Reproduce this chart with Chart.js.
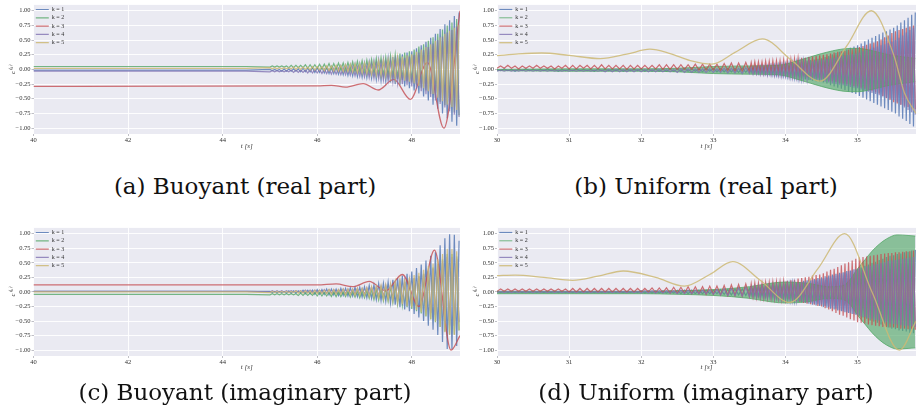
<!DOCTYPE html>
<html>
<head>
<meta charset="utf-8">
<script src="https://cdn.jsdelivr.net/npm/chart.js@4.4.1/dist/chart.umd.min.js"></script>
<style>
    body { margin: 0; background: #fff; width: 916px; height: 419px; position: relative; overflow: hidden; }
    canvas { position: absolute; }
    .caption { position: absolute; font-family: 'DejaVu Serif'; font-size: 23px; color: #111;
               transform: translate(-50%, -50%); white-space: nowrap; }
</style>
</head>
<body>
<canvas id="buoyantReal" width="460" height="160" style="left:0;top:0"></canvas>
<canvas id="uniformReal" width="456" height="160" style="left:460px;top:0"></canvas>
<canvas id="buoyantImag" width="460" height="160" style="left:0;top:223px"></canvas>
<canvas id="uniformImag" width="456" height="160" style="left:460px;top:223px"></canvas>
<div class="caption" style="left:245px;top:186px">(a) Buoyant (real part)</div>
<div class="caption" style="left:706px;top:186px">(b) Uniform (real part)</div>
<div class="caption" style="left:245px;top:392px">(c) Buoyant (imaginary part)</div>
<div class="caption" style="left:706px;top:392px">(d) Uniform (imaginary part)</div>
<script>
var modeLabels = ['k = 1', 'k = 2', 'k = 3', 'k = 4', 'k = 5'];
var yTicks = [-1, -0.75, -0.5, -0.25, 0, 0.25, 0.5, 0.75, 1];
var buoyantTicks = [40, 42, 44, 46, 48];
var uniformTicks = [30, 31, 32, 33, 34, 35];

// ---- buoyant case: sample times shared by the fast modes
var buoyantTimes = [40, 44.5,
    45.00, 45.05, 45.10, 45.15, 45.20, 45.25, 45.30, 45.35, 45.40, 45.45,
    45.50, 45.55, 45.60, 45.65, 45.70, 45.75, 45.80, 45.85, 45.90, 45.95,
    46.00, 46.05, 46.10, 46.15, 46.20, 46.25, 46.30, 46.35, 46.40, 46.45,
    46.50, 46.55, 46.60, 46.65, 46.70, 46.75, 46.80, 46.85, 46.90, 46.95,
    47.00, 47.05, 47.10, 47.15, 47.20, 47.25, 47.30, 47.35, 47.40, 47.45,
    47.50, 47.55, 47.60, 47.65, 47.70, 47.75, 47.80, 47.85, 47.90, 47.95,
    48.00, 48.05, 48.10, 48.15, 48.20, 48.25, 48.30, 48.35, 48.40, 48.45,
    48.50, 48.55, 48.60, 48.65, 48.70, 48.75, 48.80, 48.85, 48.90, 48.95,
    49.00];

// real part
var buoyantReK1 = [-0.01, -0.01,
    0.00, -0.02, 0.00, -0.02, 0.00, -0.03, 0.01, -0.03, 0.01, -0.03,
    0.01, -0.03, 0.01, -0.04, 0.02, -0.04, 0.02, -0.04, 0.03, -0.05,
    0.03, -0.05, 0.04, -0.06, 0.04, -0.07, 0.05, -0.07, 0.05, -0.08,
    0.06, -0.09, 0.07, -0.10, 0.08, -0.11, 0.09, -0.12, 0.10, -0.13,
    0.11, -0.14, 0.13, -0.15, 0.14, -0.17, 0.16, -0.19, 0.17, -0.20,
    0.19, -0.22, 0.21, -0.25, 0.24, -0.27, 0.26, -0.29, 0.29, -0.32,
    0.31, -0.36, 0.36, -0.41, 0.41, -0.46, 0.47, -0.53, 0.54, -0.60,
    0.61, -0.67, 0.69, -0.75, 0.77, -0.83, 0.84, -0.89, 0.91, -0.96,
    0.97];
var buoyantReK2 = [0.05, 0.05,
    0.04, 0.06, 0.04, 0.06, 0.04, 0.06, 0.04, 0.06, 0.03, 0.07,
    0.03, 0.07, 0.03, 0.07, 0.03, 0.08, 0.02, 0.08, 0.02, 0.08,
    0.02, 0.09, 0.01, 0.09, 0.01, 0.10, 0.00, 0.10, 0.00, 0.11,
    -0.01, 0.11, -0.02, 0.12, -0.03, 0.13, -0.04, 0.14, -0.04, 0.15,
    -0.05, 0.16, -0.07, 0.17, -0.08, 0.19, -0.09, 0.20, -0.11, 0.21,
    -0.12, 0.23, -0.14, 0.25, -0.16, 0.27, -0.18, 0.29, -0.20, 0.31,
    -0.22, 0.34, -0.27, 0.39, -0.31, 0.43, -0.36, 0.49, -0.42, 0.55,
    -0.48, 0.61, -0.55, 0.68, -0.61, 0.75, -0.67, 0.80, -0.73, 0.86,
    -0.78];
var buoyantReK4 = [-0.03, -0.03,
    -0.04, -0.02, -0.04, -0.02, -0.04, -0.02, -0.04, -0.02, -0.04, -0.01,
    -0.05, -0.01, -0.05, -0.01, -0.05, -0.01, -0.06, 0.00, -0.06, 0.00,
    -0.06, 0.00, -0.07, 0.01, -0.07, 0.01, -0.08, 0.02, -0.08, 0.02,
    -0.09, 0.03, -0.09, 0.04, -0.10, 0.05, -0.11, 0.05, -0.12, 0.06,
    -0.13, 0.07, -0.14, 0.09, -0.15, 0.10, -0.16, 0.11, -0.18, 0.12,
    -0.19, 0.14, -0.21, 0.16, -0.23, 0.18, -0.25, 0.20, -0.27, 0.22,
    -0.29, 0.25, -0.33, 0.29, -0.37, 0.33, -0.42, 0.38, -0.47, 0.44,
    -0.53, 0.50, -0.59, 0.56, -0.65, 0.63, -0.71, 0.67, -0.77, 0.73,
    -0.81];
var buoyantReK5 = [0.02, 0.02,
    0.03, 0.01, 0.03, 0.01, 0.03, 0.01, 0.03, 0.01, 0.03, 0.01,
    0.04, 0.00, 0.04, 0.00, 0.04, 0.00, 0.04, -0.01, 0.05, -0.01,
    0.05, -0.01, 0.05, -0.02, 0.06, -0.02, 0.06, -0.03, 0.07, -0.03,
    0.07, -0.04, 0.08, -0.04, 0.09, -0.05, 0.10, -0.06, 0.10, -0.07,
    0.11, -0.08, 0.12, -0.09, 0.13, -0.10, 0.15, -0.11, 0.16, -0.12,
    0.17, -0.14, 0.19, -0.16, 0.21, -0.18, 0.22, -0.19, 0.24, -0.21,
    0.26, -0.24, 0.30, -0.28, 0.34, -0.32, 0.38, -0.37, 0.43, -0.42,
    0.49, -0.48, 0.55, -0.54, 0.61, -0.60, 0.66, -0.64, 0.71, -0.69,
    0.76];
// the slow k = 3 mode
var buoyantReK3Times = [40, 46.0, 46.3, 46.6, 46.97, 47.29, 47.62, 47.97, 48.33, 48.68, 49.02];
var buoyantReK3 = [-0.29, -0.28, -0.27, -0.30, -0.24, -0.35, -0.17, -0.51, 0.12, -1.0, 1.0];

// imaginary part
var buoyantImK1 = [0.01, 0.01,
    0.01, -0.01, 0.01, -0.01, 0.01, -0.01, 0.01, -0.02, 0.02, -0.02,
    0.02, -0.02, 0.02, -0.02, 0.03, -0.03, 0.03, -0.03, 0.03, -0.04,
    0.04, -0.04, 0.04, -0.04, 0.05, -0.05, 0.05, -0.05, 0.05, -0.06,
    0.06, -0.06, 0.06, -0.07, 0.07, -0.07, 0.08, -0.08, 0.08, -0.09,
    0.09, -0.10, 0.11, -0.11, 0.12, -0.13, 0.14, -0.15, 0.15, -0.16,
    0.17, -0.19, 0.21, -0.22, 0.24, -0.26, 0.28, -0.30, 0.31, -0.33,
    0.35, -0.38, 0.41, -0.44, 0.47, -0.50, 0.54, -0.58, 0.62, -0.65,
    0.68, -0.74, 0.80, -0.86, 0.92, -0.98, 0.99, -0.99, 0.98, -0.93,
    0.88];
var buoyantImK2 = [-0.04, -0.04,
    -0.05, -0.03, -0.05, -0.03, -0.05, -0.03, -0.05, -0.03, -0.05, -0.03,
    -0.05, -0.03, -0.06, -0.02, -0.06, -0.02, -0.06, -0.02, -0.06, -0.01,
    -0.07, -0.01, -0.07, -0.01, -0.07, -0.01, -0.08, 0.00, -0.08, 0.00,
    -0.08, 0.00, -0.08, 0.01, -0.09, 0.01, -0.09, 0.02, -0.10, 0.02,
    -0.10, 0.03, -0.11, 0.04, -0.13, 0.05, -0.14, 0.06, -0.15, 0.07,
    -0.16, 0.09, -0.18, 0.12, -0.21, 0.14, -0.23, 0.17, -0.26, 0.19,
    -0.29, 0.23, -0.33, 0.27, -0.37, 0.31, -0.42, 0.37, -0.47, 0.42,
    -0.52, 0.48, -0.60, 0.56, -0.68, 0.65, -0.73, 0.65, -0.73, 0.61,
    -0.66];
var buoyantImK4 = [0.01, 0.01,
    0.00, 0.02, 0.00, 0.02, 0.00, 0.02, 0.00, 0.02, 0.00, 0.02,
    0.00, 0.02, 0.00, 0.02, -0.01, 0.03, -0.01, 0.03, -0.01, 0.03,
    -0.01, 0.03, -0.02, 0.04, -0.02, 0.04, -0.02, 0.04, -0.02, 0.04,
    -0.02, 0.05, -0.03, 0.05, -0.03, 0.05, -0.04, 0.06, -0.04, 0.06,
    -0.04, 0.07, -0.05, 0.08, -0.06, 0.09, -0.07, 0.10, -0.08, 0.11,
    -0.09, 0.12, -0.11, 0.14, -0.14, 0.17, -0.16, 0.19, -0.18, 0.21,
    -0.20, 0.24, -0.24, 0.27, -0.27, 0.31, -0.31, 0.36, -0.36, 0.40,
    -0.40, 0.45, -0.47, 0.53, -0.54, 0.60, -0.58, 0.60, -0.58, 0.57,
    -0.52];
var buoyantImK5 = [0.00, 0.00,
    -0.01, 0.01, -0.01, 0.01, -0.01, 0.01, -0.01, 0.01, -0.01, 0.01,
    -0.01, 0.02, -0.02, 0.02, -0.02, 0.02, -0.02, 0.02, -0.03, 0.03,
    -0.03, 0.03, -0.03, 0.03, -0.03, 0.04, -0.04, 0.04, -0.04, 0.04,
    -0.04, 0.05, -0.05, 0.05, -0.05, 0.05, -0.06, 0.06, -0.06, 0.06,
    -0.07, 0.07, -0.08, 0.09, -0.09, 0.10, -0.10, 0.11, -0.12, 0.12,
    -0.13, 0.14, -0.15, 0.17, -0.18, 0.20, -0.21, 0.22, -0.24, 0.25,
    -0.26, 0.29, -0.31, 0.33, -0.35, 0.38, -0.41, 0.44, -0.47, 0.49,
    -0.51, 0.56, -0.60, 0.65, -0.69, 0.74, -0.74, 0.74, -0.74, 0.70,
    -0.66];
var buoyantImK3Times = [40, 46.0, 46.4, 46.75, 47.1, 47.45, 47.8, 48.15, 48.48, 48.83, 49.02];
var buoyantImK3 = [0.12, 0.12, 0.14, 0.09, 0.18, 0.02, 0.30, -0.25, 0.72, -1.0, -0.75];

// ---- uniform case: coarse steps while the modes are quiet, finer once they grow
var uniformTimes = [
    30.00, 30.05, 30.10, 30.15, 30.20, 30.25, 30.30, 30.35, 30.40, 30.45,
    30.50, 30.55, 30.60, 30.65, 30.70, 30.75, 30.80, 30.85, 30.90, 30.95,
    31.00, 31.05, 31.10, 31.15, 31.20, 31.25, 31.30, 31.35, 31.40, 31.45,
    31.50, 31.55, 31.60, 31.65, 31.70, 31.75, 31.80, 31.85, 31.90, 31.95,
    32.00, 32.05, 32.10, 32.15, 32.20, 32.25, 32.30, 32.35, 32.40, 32.45,
    32.50, 32.55, 32.60, 32.65, 32.70, 32.75, 32.80, 32.85, 32.90, 32.95,
    33.00, 33.05, 33.10, 33.15, 33.20, 33.25, 33.30, 33.35, 33.40, 33.45,
    33.500, 33.525, 33.550, 33.575, 33.600, 33.625, 33.650, 33.675, 33.700, 33.725,
    33.750, 33.775, 33.800, 33.825, 33.850, 33.875, 33.900, 33.925, 33.950, 33.975,
    34.000, 34.025, 34.050, 34.075, 34.100, 34.125, 34.150, 34.175, 34.200, 34.225,
    34.250, 34.275, 34.300, 34.325, 34.350, 34.375, 34.400, 34.425, 34.450, 34.475,
    34.500, 34.525, 34.550, 34.575, 34.600, 34.625, 34.650, 34.675, 34.700, 34.725,
    34.750, 34.775, 34.800, 34.825, 34.850, 34.875, 34.900, 34.925, 34.950, 34.975,
    35.000, 35.025, 35.050, 35.075, 35.100, 35.125, 35.150, 35.175, 35.200, 35.225,
    35.250, 35.275, 35.300, 35.325, 35.350, 35.375, 35.400, 35.425, 35.450, 35.475,
    35.500, 35.525, 35.550, 35.575, 35.600, 35.625, 35.650, 35.675, 35.700, 35.725,
    35.750, 35.775, 35.800];

// real part
var uniformReK1 = [
    0.00, -0.02, 0.01, -0.02, 0.00, -0.03, 0.00, -0.02, 0.01, -0.02,
    0.00, -0.02, 0.00, -0.02, 0.01, -0.02, 0.00, -0.03, 0.00, -0.02,
    0.00, -0.02, 0.01, -0.02, 0.00, -0.02, 0.00, -0.03, 0.01, -0.02,
    0.00, -0.02, 0.00, -0.02, 0.01, -0.03, 0.00, -0.02, 0.00, -0.02,
    0.01, -0.03, 0.01, -0.03, 0.01, -0.03, 0.01, -0.03, 0.01, -0.03,
    0.01, -0.03, 0.02, -0.03, 0.01, -0.03, 0.01, -0.04, 0.02, -0.03,
    0.02, -0.04, 0.02, -0.04, 0.02, -0.04, 0.02, -0.05, 0.03, -0.05,
    0.03, -0.05, 0.04, -0.06, 0.04, -0.07, 0.05, -0.07, 0.05, -0.08,
    0.06, -0.08, 0.07, -0.09, 0.07, -0.10, 0.08, -0.10, 0.08, -0.11,
    0.09, -0.12, 0.10, -0.13, 0.11, -0.14, 0.12, -0.15, 0.13, -0.16,
    0.14, -0.17, 0.15, -0.18, 0.16, -0.19, 0.17, -0.20, 0.18, -0.21,
    0.19, -0.22, 0.21, -0.24, 0.23, -0.27, 0.26, -0.29, 0.28, -0.31,
    0.30, -0.33, 0.32, -0.35, 0.34, -0.38, 0.37, -0.40, 0.39, -0.42,
    0.41, -0.45, 0.44, -0.48, 0.48, -0.51, 0.51, -0.54, 0.54, -0.57,
    0.57, -0.60, 0.60, -0.63, 0.63, -0.66, 0.65, -0.69, 0.68, -0.72,
    0.71, -0.75, 0.75, -0.80, 0.80, -0.84, 0.84, -0.88, 0.88, -0.93,
    0.93, -0.97, 0.97];
var uniformReK3 = [
    0.02, 0.06, 0.02, 0.07, 0.02, 0.06, 0.01, 0.06, 0.02, 0.06,
    0.02, 0.07, 0.02, 0.06, 0.02, 0.06, 0.01, 0.06, 0.02, 0.07,
    0.01, 0.07, 0.01, 0.07, 0.02, 0.07, 0.01, 0.07, 0.01, 0.08,
    0.01, 0.07, 0.01, 0.07, 0.01, 0.07, 0.00, 0.07, 0.01, 0.07,
    0.01, 0.07, 0.01, 0.07, 0.01, 0.08, 0.00, 0.08, 0.00, 0.08,
    0.00, 0.08, 0.00, 0.08, 0.00, 0.09, -0.01, 0.09, -0.01, 0.09,
    -0.01, 0.09, -0.02, 0.10, -0.02, 0.11, -0.03, 0.11, -0.03, 0.12,
    -0.04, 0.12, -0.04, 0.13, -0.05, 0.13, -0.05, 0.13, -0.06, 0.14,
    -0.06, 0.14, -0.06, 0.15, -0.07, 0.15, -0.07, 0.15, -0.08, 0.16,
    -0.08, 0.16, -0.09, 0.17, -0.10, 0.18, -0.10, 0.19, -0.11, 0.20,
    -0.12, 0.20, -0.13, 0.21, -0.14, 0.22, -0.14, 0.23, -0.15, 0.24,
    -0.16, 0.25, -0.17, 0.26, -0.19, 0.27, -0.20, 0.29, -0.21, 0.30,
    -0.23, 0.31, -0.24, 0.32, -0.25, 0.34, -0.26, 0.35, -0.28, 0.36,
    -0.29, 0.38, -0.31, 0.40, -0.33, 0.42, -0.35, 0.44, -0.37, 0.46,
    -0.39, 0.48, -0.41, 0.51, -0.45, 0.55, -0.49, 0.58, -0.52, 0.62,
    -0.56, 0.65, -0.58, 0.67, -0.60, 0.69, -0.62, 0.71, -0.64, 0.73,
    -0.66, 0.75, -0.68];
var uniformReK4 = [
    -0.03, -0.01, -0.03, -0.01, -0.03, -0.01, -0.03, -0.01, -0.03, -0.01,
    -0.03, -0.01, -0.03, -0.01, -0.03, -0.01, -0.03, -0.01, -0.03, -0.01,
    -0.03, -0.01, -0.03, -0.01, -0.03, -0.01, -0.03, -0.01, -0.03, -0.01,
    -0.04, 0.00, -0.04, 0.00, -0.04, 0.00, -0.04, 0.00, -0.04, 0.00,
    -0.04, 0.00, -0.04, 0.00, -0.04, 0.00, -0.04, 0.00, -0.04, 0.00,
    -0.05, 0.01, -0.05, 0.01, -0.05, 0.01, -0.05, 0.01, -0.05, 0.01,
    -0.05, 0.01, -0.05, 0.02, -0.06, 0.02, -0.06, 0.02, -0.07, 0.03,
    -0.07, 0.03, -0.08, 0.04, -0.08, 0.04, -0.09, 0.05, -0.09, 0.05,
    -0.10, 0.06, -0.10, 0.06, -0.11, 0.07, -0.11, 0.07, -0.12, 0.08,
    -0.12, 0.08, -0.13, 0.09, -0.14, 0.10, -0.14, 0.11, -0.15, 0.12,
    -0.16, 0.12, -0.17, 0.13, -0.18, 0.14, -0.18, 0.15, -0.19, 0.16,
    -0.20, 0.17, -0.21, 0.18, -0.22, 0.19, -0.24, 0.20, -0.25, 0.21,
    -0.26, 0.23, -0.27, 0.24, -0.28, 0.25, -0.30, 0.26, -0.31, 0.27,
    -0.32, 0.29, -0.34, 0.31, -0.36, 0.33, -0.38, 0.35, -0.40, 0.37,
    -0.42, 0.39, -0.44, 0.41, -0.46, 0.43, -0.48, 0.45, -0.50, 0.47,
    -0.52, 0.50, -0.56, 0.54, -0.60, 0.58, -0.65, 0.63, -0.69, 0.67,
    -0.73, 0.71, -0.77];
// k = 2 oscillates too fast to resolve, so it is drawn as its envelope
var uniformReK2Times = [30, 31, 32, 32.5, 33, 33.5, 33.9, 34.2, 34.5, 34.8, 35.0, 35.2, 35.4, 35.6, 35.8];
var uniformReK2Upper = [0.00, 0.01, 0.01, 0.02, 0.05, 0.06, 0.07, 0.16, 0.27, 0.35, 0.36, 0.32, 0.26, 0.22, 0.19];
var uniformReK2Lower = [-0.02, -0.03, -0.03, -0.04, -0.07, -0.08, -0.09, -0.18, -0.29, -0.37, -0.38, -0.34, -0.28, -0.24, -0.21];
var uniformReK5Times = [30, 30.3, 30.62, 31.0, 31.43, 31.8, 32.12, 32.4, 32.68, 32.98, 33.3, 33.68, 34.08, 34.48, 34.85, 35.19, 35.5, 35.65, 35.81];
var uniformReK5 = [0.235, 0.265, 0.28, 0.24, 0.185, 0.26, 0.345, 0.27, 0.15, 0.09, 0.29, 0.52, 0.16, -0.20, 0.40, 1.0, 0.25, -0.40, -0.75];

// imaginary part
var uniformImK1 = [
    0.01, -0.01, 0.01, -0.01, 0.01, -0.01, 0.01, -0.01, 0.01, -0.01,
    0.01, -0.01, 0.01, -0.01, 0.01, -0.01, 0.01, -0.01, 0.01, -0.01,
    0.01, -0.01, 0.01, -0.01, 0.01, -0.01, 0.01, -0.01, 0.01, -0.01,
    0.01, -0.01, 0.01, -0.01, 0.01, -0.01, 0.01, -0.01, 0.01, -0.01,
    0.02, -0.02, 0.02, -0.02, 0.02, -0.02, 0.02, -0.02, 0.02, -0.02,
    0.03, -0.03, 0.03, -0.03, 0.03, -0.03, 0.03, -0.03, 0.03, -0.03,
    0.03, -0.03, 0.04, -0.04, 0.04, -0.05, 0.05, -0.05, 0.05, -0.06,
    0.06, -0.06, 0.07, -0.07, 0.07, -0.08, 0.08, -0.08, 0.08, -0.09,
    0.09, -0.09, 0.10, -0.10, 0.10, -0.11, 0.11, -0.11, 0.11, -0.12,
    0.12, -0.13, 0.13, -0.14, 0.15, -0.15, 0.16, -0.17, 0.17, -0.18,
    0.19, -0.19, 0.20, -0.20, 0.21, -0.22, 0.22, -0.23, 0.24, -0.24,
    0.25, -0.26, 0.27, -0.27, 0.28, -0.29, 0.30, -0.30, 0.31, -0.32,
    0.33, -0.33, 0.34, -0.35, 0.36, -0.36, 0.37, -0.38, 0.39, -0.39,
    0.40, -0.41, 0.42, -0.44, 0.45, -0.46, 0.47, -0.49, 0.50, -0.51,
    0.52, -0.53, 0.55, -0.56, 0.57, -0.58, 0.60, -0.61, 0.62, -0.63,
    0.63, -0.64, 0.65, -0.66, 0.66, -0.67, 0.68, -0.68, 0.69, -0.70,
    0.71, -0.71, 0.72];
var uniformImK3 = [
    0.01, 0.05, 0.01, 0.05, 0.01, 0.05, 0.01, 0.05, 0.01, 0.05,
    0.01, 0.05, 0.01, 0.05, 0.01, 0.05, 0.01, 0.05, 0.01, 0.05,
    0.00, 0.06, 0.00, 0.06, 0.00, 0.06, 0.00, 0.06, 0.00, 0.06,
    0.00, 0.06, 0.00, 0.06, 0.00, 0.06, 0.00, 0.06, 0.00, 0.06,
    0.00, 0.06, 0.00, 0.07, -0.01, 0.07, -0.01, 0.07, -0.02, 0.08,
    -0.02, 0.08, -0.02, 0.09, -0.03, 0.09, -0.03, 0.09, -0.04, 0.10,
    -0.04, 0.10, -0.05, 0.11, -0.06, 0.12, -0.06, 0.13, -0.07, 0.14,
    -0.08, 0.14, -0.08, 0.15, -0.09, 0.15, -0.09, 0.15, -0.10, 0.16,
    -0.10, 0.16, -0.10, 0.17, -0.11, 0.17, -0.11, 0.17, -0.12, 0.18,
    -0.12, 0.19, -0.13, 0.20, -0.15, 0.21, -0.16, 0.23, -0.17, 0.24,
    -0.19, 0.25, -0.20, 0.26, -0.21, 0.28, -0.22, 0.29, -0.24, 0.30,
    -0.25, 0.32, -0.28, 0.35, -0.30, 0.38, -0.33, 0.40, -0.36, 0.43,
    -0.39, 0.46, -0.41, 0.49, -0.44, 0.51, -0.47, 0.54, -0.49, 0.57,
    -0.52, 0.59, -0.53, 0.60, -0.54, 0.61, -0.56, 0.62, -0.57, 0.63,
    -0.58, 0.64, -0.59, 0.65, -0.60, 0.66, -0.60, 0.67, -0.61, 0.67,
    -0.61, 0.68, -0.62, 0.68, -0.63, 0.69, -0.63, 0.70, -0.64, 0.70,
    -0.64, 0.71, -0.65];
var uniformImK4 = [
    -0.01, 0.01, -0.01, 0.01, -0.01, 0.01, -0.01, 0.01, -0.01, 0.01,
    -0.01, 0.01, -0.01, 0.01, -0.01, 0.01, -0.01, 0.01, -0.01, 0.01,
    -0.01, 0.01, -0.01, 0.01, -0.01, 0.01, -0.01, 0.01, -0.01, 0.01,
    -0.01, 0.01, -0.01, 0.01, -0.01, 0.01, -0.01, 0.01, -0.01, 0.01,
    -0.02, 0.02, -0.02, 0.02, -0.02, 0.02, -0.02, 0.02, -0.02, 0.02,
    -0.03, 0.03, -0.03, 0.03, -0.03, 0.03, -0.03, 0.03, -0.03, 0.03,
    -0.04, 0.04, -0.05, 0.05, -0.06, 0.06, -0.06, 0.07, -0.07, 0.08,
    -0.08, 0.08, -0.08, 0.09, -0.09, 0.09, -0.09, 0.09, -0.10, 0.10,
    -0.10, 0.10, -0.10, 0.11, -0.11, 0.11, -0.11, 0.11, -0.12, 0.12,
    -0.12, 0.13, -0.13, 0.14, -0.14, 0.15, -0.15, 0.16, -0.16, 0.17,
    -0.17, 0.18, -0.18, 0.19, -0.19, 0.20, -0.20, 0.21, -0.21, 0.22,
    -0.22, 0.23, -0.24, 0.25, -0.26, 0.27, -0.27, 0.28, -0.29, 0.30,
    -0.31, 0.32, -0.33, 0.34, -0.35, 0.36, -0.36, 0.37, -0.38, 0.39,
    -0.40, 0.41, -0.42, 0.42, -0.43, 0.44, -0.45, 0.45, -0.46, 0.47,
    -0.48, 0.48, -0.49, 0.50, -0.51, 0.51, -0.52, 0.53, -0.54, 0.54,
    -0.55, 0.55, -0.56, 0.56, -0.57, 0.57, -0.58, 0.58, -0.58, 0.59,
    -0.59, 0.60, -0.60];
var uniformImK2Times = [30, 31, 32, 32.5, 33, 33.5, 33.8, 34.0, 34.3, 34.6, 34.8, 34.9, 35.0, 35.1, 35.2, 35.3, 35.4, 35.55, 35.7, 35.8];
var uniformImK2Upper = [0.01, 0.01, 0.01, 0.02, 0.04, 0.09, 0.15, 0.17, 0.15, 0.09, 0.11, 0.22, 0.40, 0.55, 0.70, 0.82, 0.91, 0.98, 0.97, 0.96];
var uniformImK2Lower = [-0.03, -0.03, -0.03, -0.04, -0.06, -0.11, -0.17, -0.19, -0.17, -0.11, -0.13, -0.22, -0.40, -0.55, -0.70, -0.82, -0.91, -0.98, -0.97, -0.96];
var uniformImK5Times = [30, 30.25, 30.65, 31.05, 31.4, 31.75, 32.2, 32.6, 32.95, 33.27, 33.65, 34.06, 34.45, 34.82, 35.2, 35.58, 35.81];
var uniformImK5 = [0.28, 0.29, 0.25, 0.20, 0.27, 0.36, 0.25, 0.10, 0.30, 0.52, 0.20, -0.18, 0.40, 1.0, 0.0, -1.0, -0.5];

// seaborn "deep" palette
var colours = [
    'rgba(76, 114, 176, 0.8)',
    'rgba(85, 168, 104, 0.8)',
    'rgba(196, 78, 82, 0.8)',
    'rgba(129, 114, 178, 0.8)',
    'rgba(204, 185, 116, 0.85)'
];
var bandFill = 'rgba(85, 168, 104, 0.65)';

var tickFont = { family: 'Liberation Serif', size: 6.5 };
var titleFont = { family: 'Liberation Serif', size: 7, style: 'italic' };
var textColour = '#333';

function points(times, values) {
    return times.map(function (t, i) { return { x: t, y: values[i] }; });
}

// k = 5 ends up on top, as in the usual plotting order
function line(k, times, values, smooth) {
    return {
        label: modeLabels[k - 1],
        data: points(times, values),
        borderColor: colours[k - 1],
        backgroundColor: colours[k - 1],
        borderWidth: smooth ? 1.3 : 1.2,
        pointRadius: 0,
        fill: false,
        order: 6 - k,
        tension: 0,
        cubicInterpolationMode: smooth ? 'monotone' : 'default'
    };
}

function band(k, times, upper, lower) {
    var top = line(k, times, upper, true);
    top.fill = '+1';
    top.backgroundColor = bandFill;
    top.borderWidth = 1;
    var bottom = line(k, times, lower, true);
    bottom.label = '';
    bottom.borderWidth = 1;
    return [top, bottom];
}

var plotBackground = {
    id: 'plotBackground',
    beforeDraw: function (chart) {
        var a = chart.chartArea;
        var ctx = chart.ctx;
        ctx.save();
        ctx.fillStyle = '#eaeaf2';
        ctx.fillRect(a.left, a.top, a.right - a.left, a.bottom - a.top);
        ctx.restore();
    }
};

function drawPanel(id, datasets, xMin, xMax, xTicks, yAxisWidth, xAxisHeight, yTitlePad, xTitlePad) {
    var grid = { color: '#ffffff', lineWidth: 0.9, tickColor: '#b8b8c0', tickLength: 2 };
    return new Chart(document.getElementById(id), {
        type: 'line',
        data: { datasets: datasets },
        options: {
            responsive: false,
            animation: false,
            events: [],
            layout: { padding: 0 },
            scales: {
                x: {
                    type: 'linear',
                    min: xMin,
                    max: xMax,
                    afterBuildTicks: function (s) { s.ticks = xTicks.map(function (v) { return { value: v }; }); },
                    afterFit: function (s) { s.height = xAxisHeight; },
                    ticks: { font: tickFont, color: textColour, padding: 0, maxRotation: 0, autoSkip: false,
                             callback: function (v) { return String(v); } },
                    grid: grid,
                    border: { display: false },
                    title: { display: true, text: 't [s]', font: titleFont, color: textColour,
                             padding: { top: 0, bottom: xTitlePad } }
                },
                y: {
                    min: -1.1,
                    max: 1.1,
                    afterBuildTicks: function (s) { s.ticks = yTicks.map(function (v) { return { value: v }; }); },
                    afterFit: function (s) { s.width = yAxisWidth; },
                    ticks: { font: tickFont, color: textColour, padding: 1, autoSkip: false,
                             callback: function (v) { return (v < 0 ? '\u2212' : '') + Math.abs(v).toFixed(2); } },
                    grid: grid,
                    border: { display: false },
                    title: { display: true, text: 'c\u207D\u1D4F\u207E', font: titleFont, color: textColour,
                             padding: { top: yTitlePad, bottom: 0 } }
                }
            },
            plugins: {
                legend: {
                    position: 'chartArea',
                    align: 'start',
                    // an empty title just pushes the entries a little below the top edge
                    title: { display: true, text: ' ', font: { size: 1 }, padding: { top: 3, bottom: 0 } },
                    labels: {
                        usePointStyle: true,
                        pointStyle: 'line',
                        pointStyleWidth: 13,
                        font: { family: 'Liberation Serif', size: 6 },
                        color: textColour,
                        padding: 2.3,
                        filter: function (item) { return item.text !== ''; },
                        sort: function (a, b) { return a.datasetIndex - b.datasetIndex; }
                    }
                },
                tooltip: { enabled: false }
            }
        },
        plugins: [plotBackground]
    });
}

drawPanel('buoyantReal', [
    line(1, buoyantTimes, buoyantReK1),
    line(2, buoyantTimes, buoyantReK2),
    line(3, buoyantReK3Times, buoyantReK3, true),
    line(4, buoyantTimes, buoyantReK4),
    line(5, buoyantTimes, buoyantReK5)
], 40, 49.02, buoyantTicks, 33.5, 26, 9.4, 10.1);

drawPanel('uniformReal', [
    line(1, uniformTimes, uniformReK1)
].concat(band(2, uniformReK2Times, uniformReK2Upper, uniformReK2Lower), [
    line(3, uniformTimes, uniformReK3),
    line(4, uniformTimes, uniformReK4),
    line(5, uniformReK5Times, uniformReK5, true)
]), 30, 35.81, uniformTicks, 37, 26, 12.8, 10.1);

drawPanel('buoyantImag', [
    line(1, buoyantTimes, buoyantImK1),
    line(2, buoyantTimes, buoyantImK2),
    line(3, buoyantImK3Times, buoyantImK3, true),
    line(4, buoyantTimes, buoyantImK4),
    line(5, buoyantTimes, buoyantImK5)
], 40, 49.02, buoyantTicks, 33.5, 27, 9.4, 11.5);

drawPanel('uniformImag', [
    line(1, uniformTimes, uniformImK1)
].concat(band(2, uniformImK2Times, uniformImK2Upper, uniformImK2Lower), [
    line(3, uniformTimes, uniformImK3),
    line(4, uniformTimes, uniformImK4),
    line(5, uniformImK5Times, uniformImK5, true)
]), 30, 35.81, uniformTicks, 37, 27, 12.8, 11.5);
</script>
</body>
</html>
